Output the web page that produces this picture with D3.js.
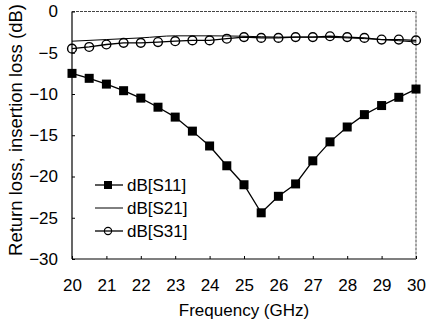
<!DOCTYPE html>
<html>
<head>
<meta charset="utf-8">
<script src="https://cdn.jsdelivr.net/npm/d3@7"></script>
<style>
  body { margin: 0; background: #fff; }
  svg { display: block; font-family: "Liberation Sans", Arial, sans-serif; }
</style>
</head>
<body>
<div id="chart"></div>
<script>
// frequency points (GHz)
var freq = [20, 20.5, 21, 21.5, 22, 22.5, 23, 23.5, 24, 24.5, 25,
            25.5, 26, 26.5, 27, 27.5, 28, 28.5, 29, 29.5, 30];
var s11 = [-7.5, -8.1, -8.8, -9.6, -10.5, -11.6, -12.8, -14.5, -16.3, -18.7, -21.0,
           -24.4, -22.4, -20.9, -18.1, -15.8, -14.0, -12.5, -11.4, -10.4, -9.4];
var s31 = [-4.5, -4.3, -4.0, -3.8, -3.8, -3.7, -3.6, -3.5, -3.5, -3.3, -3.1,
           -3.2, -3.2, -3.1, -3.1, -3.0, -3.1, -3.2, -3.4, -3.4, -3.5];
var s21Freq = [20, 21, 22, 23, 24, 25, 26, 27, 28, 29, 30];
var s21 = [-3.6, -3.4, -3.2, -2.95, -2.95, -3.0, -3.1, -3.1, -3.2, -3.4, -3.7];

var xTicks = [20, 21, 22, 23, 24, 25, 26, 27, 28, 29, 30];
var yTicks = [0, -5, -10, -15, -20, -25, -30];
var legendNames = ["dB[S11]", "dB[S21]", "dB[S31]"];

var W = 426, H = 327;
var margin = { top: 11.5, right: 10, bottom: 68, left: 72 };
var width = W - margin.left - margin.right;
var height = H - margin.top - margin.bottom;

var svg = d3.select("#chart").append("svg")
  .attr("width", W)
  .attr("height", H);
svg.append("rect").attr("width", W).attr("height", H).attr("fill", "#fff");

var g = svg.append("g")
  .attr("transform", "translate(" + margin.left + "," + margin.top + ")");

var x = d3.scaleLinear().domain([20, 30]).range([0, width]);
var y = d3.scaleLinear().domain([-30, 0]).range([height, 0]);

// frame: left/bottom solid, top/right lighter like the scan
g.append("line").attr("x1", 0).attr("x2", 0).attr("y1", 0).attr("y2", height)
  .attr("stroke", "#000").attr("stroke-width", 1.2);
g.append("line").attr("x1", 0).attr("x2", width).attr("y1", height).attr("y2", height)
  .attr("stroke", "#000").attr("stroke-width", 1.2);
g.append("line").attr("x1", 0).attr("x2", width).attr("y1", 0).attr("y2", 0)
  .attr("stroke", "#444").attr("stroke-width", 1).attr("stroke-dasharray", "3,1");
g.append("line").attr("x1", width).attr("x2", width).attr("y1", 0).attr("y2", height)
  .attr("stroke", "#444").attr("stroke-width", 1).attr("stroke-dasharray", "3,1");

// x axis
var xAxis = g.append("g")
  .attr("transform", "translate(0," + height + ")")
  .call(d3.axisBottom(x).tickValues(xTicks).tickSize(-3).tickPadding(20).tickFormat(d3.format("d")));
xAxis.select(".domain").remove();
xAxis.selectAll("text").attr("font-size", "17px").attr("fill", "#000")
  .attr("font-family", "Liberation Sans, Arial, sans-serif");

// y axis
var yAxis = g.append("g")
  .call(d3.axisLeft(y).tickValues(yTicks).tickSize(-3).tickPadding(14).tickFormat(d3.format("d")));
yAxis.select(".domain").remove();
yAxis.selectAll("text").attr("font-size", "17px").attr("fill", "#000")
  .attr("font-family", "Liberation Sans, Arial, sans-serif");

// axis titles
svg.append("text")
  .attr("x", margin.left + width / 2).attr("y", 316)
  .attr("text-anchor", "middle").attr("font-size", "17px")
  .text("Frequency (GHz)");
svg.append("text")
  .attr("transform", "translate(22,130) rotate(-90)")
  .attr("text-anchor", "middle").attr("font-size", "18.5px")
  .text("Return loss, insertion loss (dB)");

var line = d3.line().x(function (d) { return x(d[0]); }).y(function (d) { return y(d[1]); });

var d11 = d3.zip(freq, s11);
var d31 = d3.zip(freq, s31);
var d21 = d3.zip(s21Freq, s21);

// S21 thin line
g.append("path").datum(d21).attr("d", line.curve(d3.curveMonotoneX))
  .attr("fill", "none").attr("stroke", "#000").attr("stroke-width", 1);

// S31 line + open circles
g.append("path").datum(d31).attr("d", line.curve(d3.curveLinear))
  .attr("fill", "none").attr("stroke", "#000").attr("stroke-width", 1.3);
g.selectAll(".c31").data(d31).enter().append("circle")
  .attr("cx", function (d) { return x(d[0]); })
  .attr("cy", function (d) { return y(d[1]); })
  .attr("r", 4.4).attr("fill", "none").attr("stroke", "#000").attr("stroke-width", 1.4);

// S11 line + filled squares
g.append("path").datum(d11).attr("d", line.curve(d3.curveLinear))
  .attr("fill", "none").attr("stroke", "#000").attr("stroke-width", 1.3);
var sq = 9;
g.selectAll(".s11").data(d11).enter().append("rect")
  .attr("x", function (d) { return x(d[0]) - sq / 2; })
  .attr("y", function (d) { return y(d[1]) - sq / 2; })
  .attr("width", sq).attr("height", sq).attr("fill", "#000");

// legend
var legend = svg.append("g");
var rowY = [185, 208, 231];
legendNames.forEach(function (name, i) {
  var ly = rowY[i];
  legend.append("line").attr("x1", 95).attr("x2", 123).attr("y1", ly).attr("y2", ly)
    .attr("stroke", "#000").attr("stroke-width", i === 1 ? 1 : 1.3);
  if (i === 0) {
    legend.append("rect").attr("x", 104).attr("y", ly - 4).attr("width", 8).attr("height", 8).attr("fill", "#000");
  } else if (i === 2) {
    legend.append("circle").attr("cx", 108).attr("cy", ly).attr("r", 3.6)
      .attr("fill", "none").attr("stroke", "#000").attr("stroke-width", 1.2);
  }
  legend.append("text").attr("x", 127).attr("y", ly + 6)
    .attr("font-size", "17px").text(name);
});
</script>
</body>
</html>
